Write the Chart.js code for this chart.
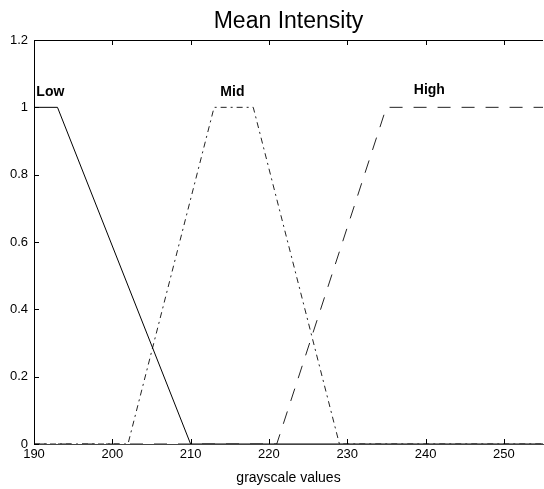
<!DOCTYPE html>
<html>
<head>
<meta charset="utf-8">
<script src="https://cdn.jsdelivr.net/npm/chart.js@4"></script>
<style>
  body { margin: 0; background: #fff; }
  canvas { display: block; }
</style>
</head>
<body>
<canvas id="mfChart" width="544" height="489"></canvas>
<script>
// membership functions (grayscale value -> degree)
const lowX = [190, 193, 210, 255];
const lowY = [1, 1, 0, 0];
const midX = [190, 202, 213, 218, 229, 255];
const midY = [0, 0, 1, 1, 0, 0];
const highX = [190, 221, 235, 255];
const highY = [0, 0, 1, 1];

const xTicks = [190, 200, 210, 220, 230, 240, 250];
const yTicks = [0, 0.2, 0.4, 0.6, 0.8, 1, 1.2];
const yTickLabels = ['0', '0.2', '0.4', '0.6', '0.8', '1', '1.2'];

const setNames = ['Low', 'Mid', 'High'];
const setLabelPos = [[190.3, 1.035], [213.8, 1.035], [238.5, 1.04]];

function toPoints(xs, ys) {
    return xs.map((x, i) => ({ x: x, y: ys[i] }));
}

const FONT = '"Liberation Sans", Arial, sans-serif';

const decorPlugin = {
    id: 'decor',
    afterDraw(chart) {
        const ctx = chart.ctx;
        const area = chart.chartArea;
        const xs = chart.scales.x;
        const ys = chart.scales.y;
        ctx.save();

        // frame: top line + left line
        ctx.strokeStyle = '#000';
        ctx.lineWidth = 1;
        ctx.beginPath();
        ctx.moveTo(area.left + 0.5, area.bottom);
        ctx.lineTo(area.left + 0.5, area.top + 0.5);
        ctx.lineTo(area.right, area.top + 0.5);
        ctx.stroke();

        // inward ticks
        ctx.beginPath();
        xTicks.forEach(v => {
            const px = Math.round(xs.getPixelForValue(v)) + 0.5;
            ctx.moveTo(px, area.top);
            ctx.lineTo(px, area.top + 5);
            ctx.moveTo(px, area.bottom);
            ctx.lineTo(px, area.bottom - 5);
        });
        yTicks.forEach(v => {
            const py = Math.round(ys.getPixelForValue(v)) + 0.5;
            ctx.moveTo(area.left, py);
            ctx.lineTo(area.left + 5, py);
        });
        ctx.stroke();

        // title
        ctx.fillStyle = '#000';
        ctx.font = '23px ' + FONT;
        ctx.textAlign = 'center';
        ctx.textBaseline = 'alphabetic';
        ctx.fillText('Mean Intensity', (area.left + area.right) / 2, 28);

        // set labels
        ctx.font = 'bold 14px ' + FONT;
        ctx.textAlign = 'left';
        setNames.forEach((name, i) => {
            const p = setLabelPos[i];
            ctx.fillText(name, xs.getPixelForValue(p[0]), ys.getPixelForValue(p[1]));
        });
        ctx.restore();
    }
};

new Chart(document.getElementById('mfChart').getContext('2d'), {
    type: 'line',
    data: {
        datasets: [
            {
                label: 'Low',
                data: toPoints(lowX, lowY),
                borderColor: '#000',
                borderWidth: 1,
                pointRadius: 0,
                tension: 0,
                fill: false
            },
            {
                label: 'Mid',
                data: toPoints(midX, midY),
                borderColor: '#222',
                borderWidth: 1,
                borderDash: [6, 4, 2, 4],
                pointRadius: 0,
                tension: 0,
                fill: false
            },
            {
                label: 'High',
                data: toPoints(highX, highY),
                borderColor: '#222',
                borderWidth: 1,
                borderDash: [13, 11],
                pointRadius: 0,
                tension: 0,
                fill: false
            }
        ]
    },
    options: {
        responsive: false,
        animation: false,
        layout: { padding: { top: 40, right: 1, left: 0, bottom: 0 } },
        plugins: {
            legend: { display: false },
            title: { display: false },
            tooltip: { enabled: false }
        },
        scales: {
            x: {
                type: 'linear',
                min: 190,
                max: 255,
                afterBuildTicks: axis => { axis.ticks = xTicks.map(v => ({ value: v })); },
                afterFit: axis => { axis.height = 45; },
                grid: { display: false, drawTicks: false },
                border: { display: true, color: '#444' },
                ticks: {
                    color: '#000',
                    padding: 3,
                    maxRotation: 0,
                    font: { family: FONT, size: 13 }
                },
                title: {
                    display: true,
                    text: 'grayscale values',
                    color: '#000',
                    padding: { top: 2, bottom: 2 },
                    font: { family: FONT, size: 14 }
                }
            },
            y: {
                min: 0,
                max: 1.2,
                afterBuildTicks: axis => { axis.ticks = yTicks.map(v => ({ value: v })); },
                afterFit: axis => { axis.width = 34; },
                grid: { display: false, drawTicks: false },
                border: { display: false },
                ticks: {
                    color: '#000',
                    padding: 6,
                    font: { family: FONT, size: 13 },
                    callback: (v, i) => yTickLabels[i]
                }
            }
        }
    },
    plugins: [decorPlugin]
});
</script>
</body>
</html>
